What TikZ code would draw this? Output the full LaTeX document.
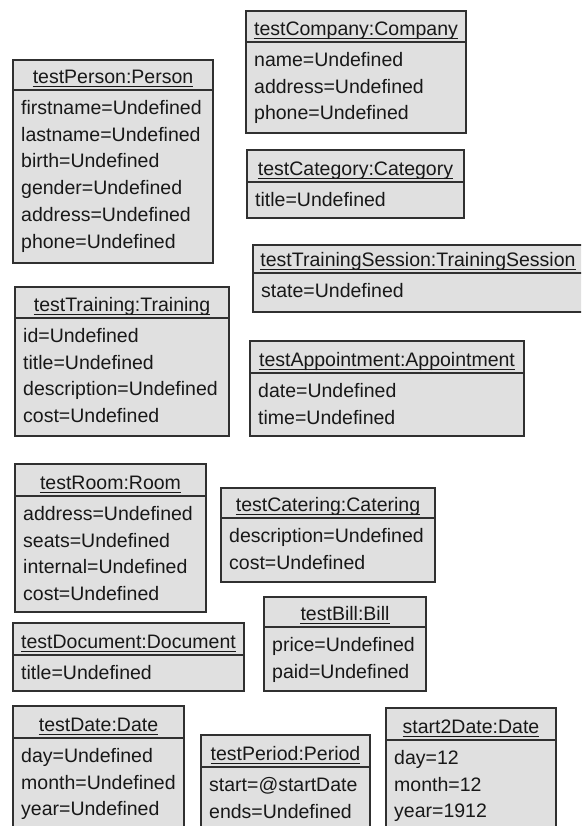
\documentclass[tikz,border=0pt]{standalone}
\usepackage{fontspec}
\setmainfont{Liberation Sans}
\definecolor{objfill}{RGB}{224,224,224}
\definecolor{objline}{RGB}{48,48,48}
\definecolor{objtext}{RGB}{24,24,24}

% \umlobject{id}{left}{top}{right}{bottom}{header line y}{title}{attribute rows}
\newcommand\umlobject[8]{%
  \node[objbox, anchor=north west, minimum width={#4-#2}, minimum height={#5-#3}] (#1) at (#2,#3) {};
  \coordinate (#1-s) at (#2,#6);
  \draw[sepline] (#1-s) -- (#1-s -| #1.east);
  \node[objtitle, anchor=base] (#1-t) at ({(#2+#4)/2},{#6-6.5}) {#7};
  \draw[uline] ([yshift=-3pt]#1-t.base west) -- ([yshift=-3pt]#1-t.base east);
  \foreach \rowtext [count=\i] in {#8} {
    \node[attr, anchor=base west] (#1-\i) at ({#2+8},{#6+24.5+(\i-1)*26.7}) {\rowtext};
  }%
}

\begin{document}
\begin{tikzpicture}[x=1pt,y=-1pt,
  objbox/.style={draw=objline, fill=objfill, line width=1.4pt, inner sep=0pt, outer sep=0pt},
  sepline/.style={draw=objline, line width=1.4pt},
  uline/.style={draw=objtext, line width=0.9pt},
  objtitle/.style={inner sep=0pt, text=objtext, font=\fontsize{19.5}{24}\selectfont},
  attr/.style={inner sep=0pt, text=objtext, font=\fontsize{19.5}{24}\selectfont}]
\useasboundingbox (0,0) rectangle (581,826);
\clip (0,0) rectangle (581,826);

\umlobject{person}{13}{60}{213}{263}{90}{testPerson:Person}
  {firstname=Undefined,lastname=Undefined,birth=Undefined,gender=Undefined,address=Undefined,phone=Undefined}
\umlobject{company}{246}{11}{466}{133}{42}{testCompany:Company}
  {name=Undefined,address=Undefined,phone=Undefined}
\umlobject{category}{247}{150}{464}{218}{182}{testCategory:Category}
  {title=Undefined}
\umlobject{session}{253}{245}{583}{312}{273}{testTrainingSession:TrainingSession}
  {state=Undefined}
\umlobject{training}{15}{287}{229}{436}{318}{testTraining:Training}
  {id=Undefined,title=Undefined,description=Undefined,cost=Undefined}
\umlobject{appointment}{250}{341}{524}{436}{373}{testAppointment:Appointment}
  {date=Undefined,time=Undefined}
\umlobject{room}{15}{464}{206}{612}{496}{testRoom:Room}
  {address=Undefined,seats=Undefined,internal=Undefined,cost=Undefined}
\umlobject{catering}{221}{488}{435}{582}{518}{testCatering:Catering}
  {description=Undefined,cost=Undefined}
\umlobject{document}{13}{623}{244}{691}{655}{testDocument:Document}
  {title=Undefined}
\umlobject{bill}{264}{597}{426}{691}{627}{testBill:Bill}
  {price=Undefined,paid=Undefined}
\umlobject{date}{13}{706}{184}{900}{738}{testDate:Date}
  {day=Undefined,month=Undefined,year=Undefined}
\umlobject{period}{201}{735}{370}{900}{767}{testPeriod:Period}
  {start=@startDate,ends=Undefined}
\umlobject{startdate}{386}{708}{556}{900}{740}{start2Date:Date}
  {day=12,month=12,year=1912}
\end{tikzpicture}
\end{document}
